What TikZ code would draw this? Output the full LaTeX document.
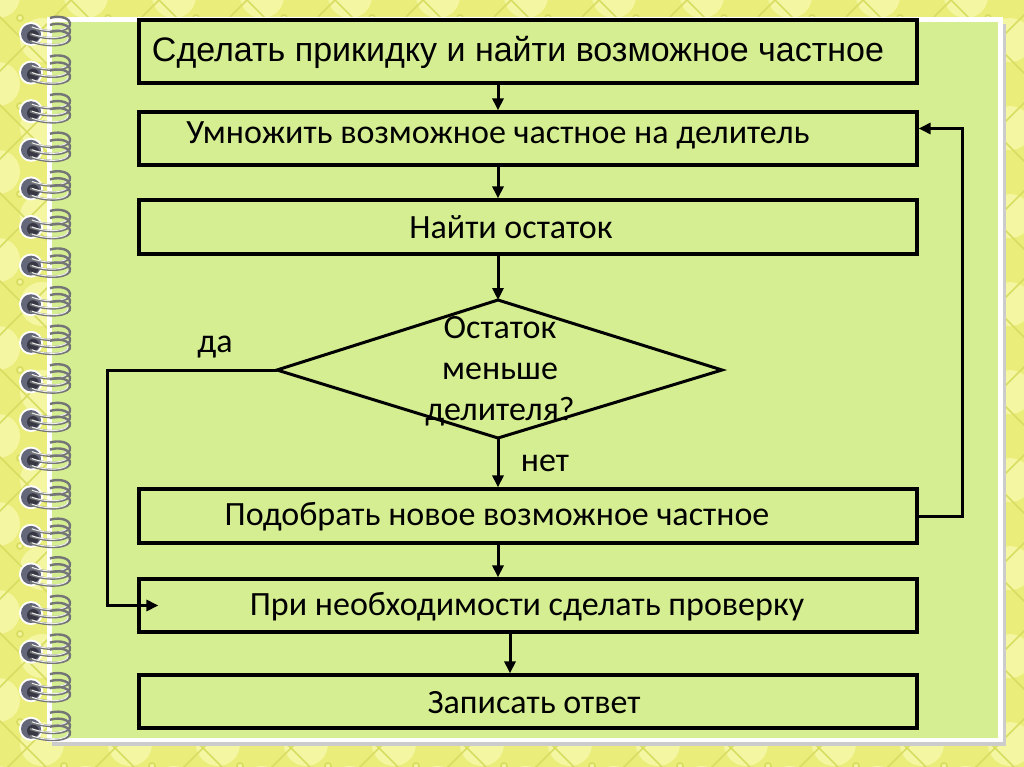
\documentclass[tikz,border=0pt]{standalone}
\usepackage{fontspec}
\setmainfont{Carlito}
\newfontfamily\arialf{Liberation Sans}
\usetikzlibrary{arrows.meta,calc}
\definecolor{quilt}{RGB}{234,237,122}
\definecolor{quiltlight}{RGB}{244,246,162}
\definecolor{quiltdark}{RGB}{216,221,98}
\definecolor{page}{RGB}{214,238,146}
\definecolor{hole}{RGB}{100,102,122}
\definecolor{silver}{RGB}{165,167,170}
\begin{document}
\begin{tikzpicture}[x=1pt,y=-1pt,
  flowbox/.style={draw=black,line width=3.2pt,minimum width=778pt,inner sep=0pt},
  flowtext/.style={font=\fontsize{34}{36}\selectfont,inner sep=0pt,anchor=center},
  arr/.style={line width=3pt,-{Triangle[length=12pt,width=11pt]}},
  conn/.style={line width=3pt}]
\useasboundingbox (0,0) rectangle (1024,767);
% quilted background
\fill[quilt] (0,0) rectangle (1024,767);
\begin{scope}
\clip (0,0) rectangle (1024,767);
\foreach \i in {0,88,...,1100}{
  \foreach \j in {0,88,...,800}{
    \fill[quiltlight] (\i+42,\j+40) circle (22);
    \fill[quiltlight] (\i-2,\j-4) circle (22);
  }
}
\foreach \k in {-900,-812,...,1900}{
  \draw[quiltdark,line width=1.6pt] (\k+3,0) -- ++(800,800);
  \draw[quiltdark,line width=1.6pt] (\k+3,0) -- ++(-800,800);
}
\foreach \i in {0,88,...,1100}{
  \foreach \j in {0,88,...,800}{
    \fill[quiltdark] (\i+20,\j+18) circle (4);
    \fill[quiltlight] (\i+20,\j+18) circle (2);
    \fill[quiltdark] (\i+64,\j+62) circle (4);
    \fill[quiltlight] (\i+64,\j+62) circle (2);
  }
}
\end{scope}
% page
\fill[black!20] (52,24) rectangle (1006,746);
\fill[white] (47,17) rectangle (1003,742);
\fill[page] (52,22) rectangle (998,738);
% spiral rings
\foreach \n in {0,...,18}{
  \pgfmathsetmacro{\yy}{34+38.6*\n}
  \fill[white] (31,\yy) circle (12);
  \fill[hole] (31,\yy) circle (10);
  \fill[hole!55!black] (33,\yy+2) circle (6);
  \foreach \d in {-7,0,7}{
    \draw[silver!70!black,line width=2.4pt] (30,\yy+\d) .. controls (48,\yy+\d+7) and (72,\yy+\d+5) .. (70,\yy+\d-4) .. controls (68,\yy+\d-11) and (56,\yy+\d-11) .. (50,\yy+\d-9);
    \draw[white!80!silver,line width=1pt] (32,\yy+\d) .. controls (48,\yy+\d+6) and (69,\yy+\d+4) .. (68,\yy+\d-3);
  }
}
% boxes
\node[flowbox,minimum height=63pt] (b1) at (528,51.5) {};
\node[flowbox,minimum height=53pt] (b2) at (528,138.5) {};
\node[flowbox,minimum height=54pt] (b3) at (528,227) {};
\node[flowbox,minimum height=54pt] (b4) at (528,516) {};
\node[flowbox,minimum height=53pt] (b5) at (528,605.5) {};
\node[flowbox,minimum height=53pt] (b6) at (528,701.5) {};
% texts
\node[flowtext,font=\arialf\fontsize{34}{36}\selectfont] (t1) at (518,52) {Сделать прикидку и найти возможное частное};
\node[flowtext] (t2) at (498,135) {Умножить возможное частное на делитель};
\node[flowtext] (t3) at (511,227) {Найти остаток};
\node[flowtext] (t4) at (497,517) {Подобрать новое возможное частное};
\node[flowtext] (t5) at (527,607) {При необходимости сделать проверку};
\node[flowtext] (t6) at (534,703) {Записать ответ};
% diamond
\coordinate (dtop) at (498,300);
\coordinate (dright) at (722,370);
\coordinate (dbot) at (498,438);
\coordinate (dleft) at (277,370);
\draw[line width=3pt,line join=miter] (dtop) -- (dright) -- (dbot) -- (dleft) -- cycle;
\node[flowtext,align=center,font=\fontsize{34}{41}\selectfont] (td) at (500,371) {Остаток\\меньше\\делителя?};
\node[flowtext] (yes) at (215,347) {да};
\node[flowtext] (no) at (545,463) {нет};
% arrow x positions
\coordinate (ca) at (498,0);
\coordinate (cb) at (510,0);
\coordinate (lp) at (107,0);
\coordinate (rp) at (962,0);
\coordinate (yesend) at ($(b5.west)+(21,0)$);
\coordinate (noend) at ($(b2.east)+(0,-10)$);
% connectors
\draw[arr] (b1.south -| ca) -- (b2.north -| ca);
\draw[arr] (b2.south -| ca) -- (b3.north -| ca);
\draw[arr] (b3.south -| ca) -- (dtop);
\draw[arr] (dbot) -- (b4.north -| ca);
\draw[arr] (b4.south -| ca) -- (b5.north -| ca);
\draw[arr] (b5.south -| cb) -- (b6.north -| cb);
\draw[arr] (dleft) -- (dleft -| lp) |- (yesend);
\draw[arr] (b4.east) -- (b4.east -| rp) |- (noend);
\end{tikzpicture}
\end{document}
